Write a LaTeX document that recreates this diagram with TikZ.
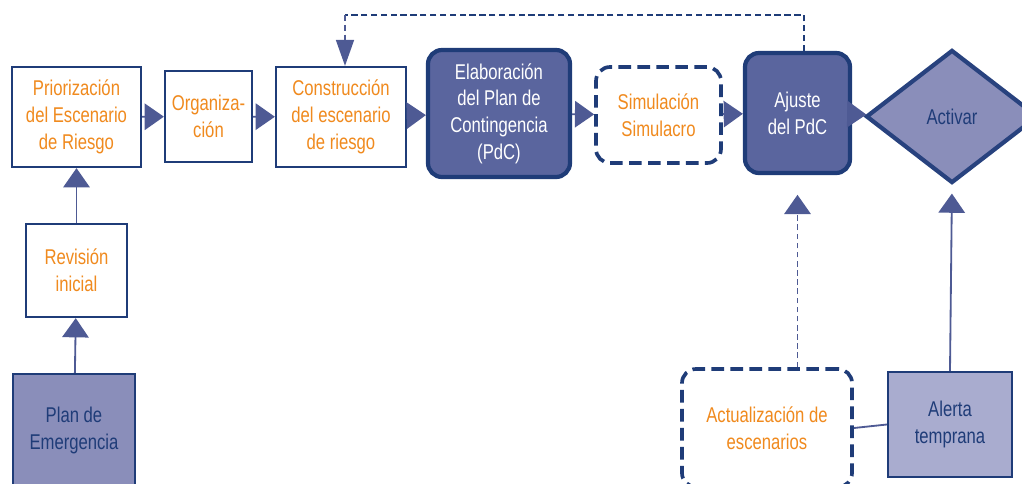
\documentclass[tikz,border=0pt]{standalone}
\usepackage{fontspec}
\setmainfont{Liberation Sans}[FakeStretch=0.78]
\usetikzlibrary{arrows.meta,shapes.geometric}
\definecolor{navy}{HTML}{1F3C78}
\definecolor{arrowc}{HTML}{4E5A94}
\definecolor{darkfill}{HTML}{5A659E}
\definecolor{midfill}{HTML}{8A8EBA}
\definecolor{lightfill}{HTML}{A9ACCF}
\definecolor{orangetxt}{HTML}{F08A1E}
\begin{document}
\begin{tikzpicture}[x=0.025cm, y=-0.025cm,
  every node/.style={font=\fontsize{15.2}{19}\selectfont, align=center, inner sep=0pt},
  plainbox/.style={draw=navy, line width=1.6pt, fill=white, text=orangetxt},
  darkbox/.style={draw=navy, line width=3pt, fill=darkfill, text=white, rounded corners=10pt},
  dashbox/.style={draw=navy, line width=2.6pt, dash pattern=on 9pt off 4.5pt, fill=white, text=orangetxt, rounded corners=10pt},
  litebox/.style={draw=navy, line width=1.6pt, text=navy},
  flow/.style={draw=arrowc, line width=1.3pt, -{Triangle[length=0.48cm, width=0.66cm]}},
  fback/.style={draw=navy, line width=1.2pt, dash pattern=on 4.5pt off 2.5pt},
]
\useasboundingbox (0,0) rectangle (1022,483);
\node[plainbox, minimum width=3.225cm, minimum height=2.5cm] (bx0) at (76.5,117) {Priorización\\del Escenario\\de Riesgo};
\node[plainbox, minimum width=2.175cm, minimum height=2.275cm] (bx1) at (208.5,116.5) {Organiza-\\ción};
\node[plainbox, minimum width=3.25cm, minimum height=2.5cm] (bx2) at (341,117) {Construcción\\del escenario\\de riesgo};
\node[darkbox, minimum width=3.55cm, minimum height=3.175cm] (bx3) at (499,113.5) {Elaboración\\del Plan de\\Contingencia\\(PdC)};
\node[dashbox, minimum width=3.125cm, minimum height=2.4cm] (bx4) at (658.5,115) {Simulación\\Simulacro};
\node[darkbox, minimum width=2.625cm, minimum height=3cm] (bx5) at (797.5,113) {Ajuste\\del PdC};
\node[diamond, draw=navy!80!arrowc, line width=3pt, fill=midfill, text=navy, minimum width=4.3cm, minimum height=3.325cm] (bx6) at (952,116.5) {Activar};
\node[plainbox, minimum width=2.525cm, minimum height=2.325cm] (bx7) at (76.5,270.5) {Revisión\\inicial};
\node[litebox, fill=midfill, minimum width=3.05cm, minimum height=2.825cm] (bx8) at (74,430.5) {Plan de\\Emergencia};
\node[dashbox, minimum width=4.25cm, minimum height=2.95cm] (bx9) at (767,428) {Actualización de\\escenarios};
\node[litebox, fill=lightfill, minimum width=3.1cm, minimum height=2.625cm] (bx10) at (950,424.5) {Alerta\\temprana};
\coordinate (c0) at (804,15);
\coordinate (c1) at (345,15);
% main row
\draw[flow] (bx0) -- (bx1);
\draw[flow] (bx1) -- (bx2);
\draw[flow] (bx2) -- (bx3);
\draw[flow] (bx3) -- (bx4);
\draw[flow] (bx4) -- (bx5);
\draw[flow] (bx5) -- (bx6);
% left column
\draw[flow] (bx8) -- (bx7);
\draw[flow] (bx7) -- (bx0);
% right side
\draw[flow, dash pattern=on 4pt off 2.5pt, shorten >=14] (bx5.south |- bx9.north) -- (bx5.south);
\draw[flow, shorten >=6] (bx10.north) -- (bx6.south);
\draw[draw=arrowc, line width=1.3pt] (bx9.east) -- (bx10.west);
% feedback
\draw[fback] (c0 |- bx5.north) -- (c0) -- (c1);
\draw[fback, -{Triangle[length=0.65cm, width=0.45cm]}, arrowc] (c1) -- (c1 |- bx2.north);
\end{tikzpicture}
\end{document}
